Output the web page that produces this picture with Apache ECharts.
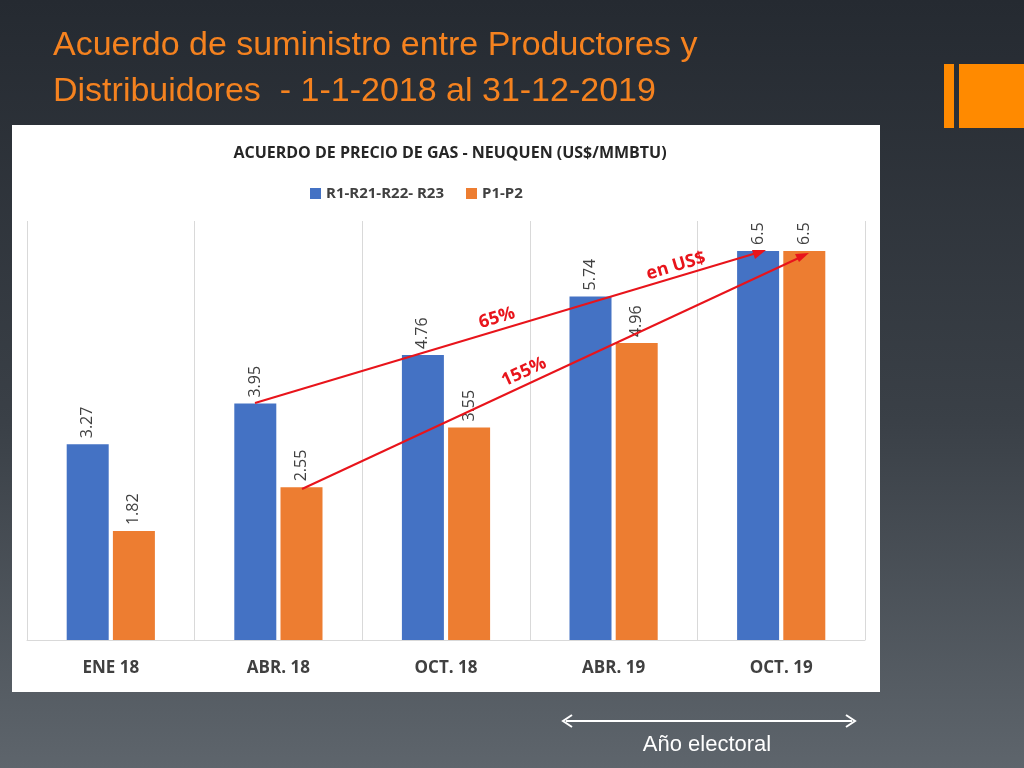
<!DOCTYPE html>
<html><head><meta charset="utf-8">
<script src="https://cdn.jsdelivr.net/npm/echarts@6/dist/echarts.min.js"></script>
<style>html,body{margin:0;padding:0;}#c{width:1024px;height:768px;background:linear-gradient(#252a31 0%,#3a4047 55%,#5e656c 100%);}</style>
</head><body><div id="c"></div>
<script>
const categories=['ENE 18','ABR. 18','OCT. 18','ABR. 19','OCT. 19'];
const seriesR=[3.27,3.95,4.76,5.74,6.5];
const seriesP=[1.82,2.55,3.55,4.96,6.5];
const chart=echarts.init(document.getElementById('c'));
const lbl={show:true,position:'top',rotate:90,align:'left',verticalAlign:'middle',distance:6,fontFamily:'Open Sans',fontSize:16,color:'#404040'};
chart.setOption({
 animation:false,
 title:[{text:'Acuerdo de suministro entre Productores y\nDistribuidores  - 1-1-2018 al 31-12-2019',left:48,top:18,textStyle:{color:'#f5821f',fontFamily:'Liberation Sans',fontSize:34,fontWeight:'normal',lineHeight:46}},
  {text:'ACUERDO DE PRECIO DE GAS - NEUQUEN (US$/MMBTU)',left:445,textAlign:'center',top:140,textStyle:{color:'#262626',fontFamily:'Open Sans',fontSize:16,fontWeight:'bold'}}],
 legend:{top:181,left:'center',itemWidth:11,itemHeight:11,icon:'rect',itemGap:22,textStyle:{fontFamily:'Open Sans',fontSize:15,fontWeight:'bold',color:'#404040'},data:['R1-R21-R22- R23','P1-P2'],left:305},
 grid:{left:27,right:159,top:221,bottom:128},
 xAxis:{type:'category',data:categories,axisTick:{show:false},axisLine:{lineStyle:{color:'#d9d9d9'}},splitLine:{show:true,lineStyle:{color:'#d9d9d9'}},axisLabel:{margin:20,fontFamily:'Open Sans',fontSize:17,fontWeight:'bold',color:'#404040'}},
 yAxis:{type:'value',min:0,max:7,show:false,splitLine:{show:false}},
 graphic:[
  {type:'rect',shape:{x:12,y:125,width:868,height:567},style:{fill:'#fff'},z:-10},
  {type:'rect',shape:{x:944,y:64,width:10,height:64},style:{fill:'#ff8a00'}},
  {type:'rect',shape:{x:959,y:64,width:65,height:64},style:{fill:'#ff8a00'}},
  {type:'line',shape:{x1:255,y1:403,x2:760,y2:252},style:{stroke:'#e8141b',lineWidth:2},z:100},
  {type:'polygon',shape:{points:[[766,250],[752,250],[755,259]]},style:{fill:'#e8141b'},z:100},
  {type:'line',shape:{x1:302,y1:489,x2:803,y2:256},style:{stroke:'#e8141b',lineWidth:2},z:100},
  {type:'polygon',shape:{points:[[809,253],[795,254],[799,262]]},style:{fill:'#e8141b'},z:100},
  {type:'text',x:497,y:318,rotation:0.29,style:{text:'65%',fill:'#e8141b',font:'bold 18px "Open Sans"',align:'center',verticalAlign:'middle'},z:100},
  {type:'text',x:524,y:372,rotation:0.43,style:{text:'155%',fill:'#e8141b',font:'bold 18px "Open Sans"',align:'center',verticalAlign:'middle'},z:100},
  {type:'text',x:676,y:266,rotation:0.29,style:{text:'en US$',fill:'#e8141b',font:'bold 18px "Open Sans"',align:'center',verticalAlign:'middle'},z:100},
  {type:'line',shape:{x1:566,y1:721,x2:852,y2:721},style:{stroke:'#fff',lineWidth:2}},
  {type:'polyline',shape:{points:[[572,715],[563,721],[572,727]]},style:{stroke:'#fff',lineWidth:2,fill:null}},
  {type:'polyline',shape:{points:[[846,715],[855,721],[846,727]]},style:{stroke:'#fff',lineWidth:2,fill:null}},
  {type:'text',x:707,y:745,style:{text:'Año electoral',fill:'#fff',font:'22px "Liberation Sans"',align:'center',verticalAlign:'middle'}}
 ],
 series:[
  {name:'R1-R21-R22- R23',type:'bar',data:seriesR,barWidth:42,barGap:'10%',itemStyle:{color:'#4472c4'},label:lbl},
  {name:'P1-P2',type:'bar',data:seriesP,barWidth:42,itemStyle:{color:'#ed7d31'},label:lbl}
 ]
});
</script></body></html>
